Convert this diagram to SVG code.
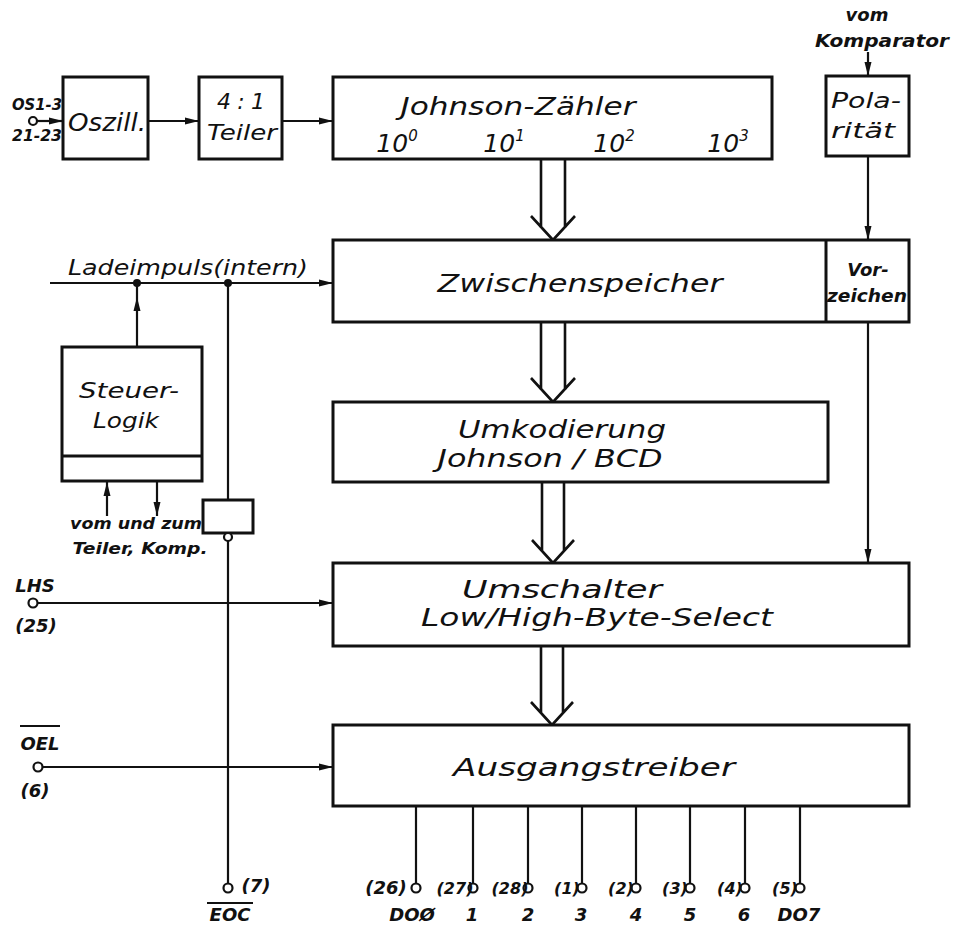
<svg xmlns="http://www.w3.org/2000/svg" width="962" height="928" viewBox="0 0 962 928">
<defs>
<marker id="arr" viewBox="0 0 14 8" refX="14" refY="4" markerWidth="14" markerHeight="8" markerUnits="userSpaceOnUse" orient="auto"><path d="M0,0.5 L14,4 L0,7.5 z" fill="#111"/></marker>
</defs>
<style>
.box{fill:#fff;stroke:#111;stroke-width:3}
.ln{fill:none;stroke:#111;stroke-width:2.2}
.dbl{fill:none;stroke:#111;stroke-width:2.6;stroke-linejoin:miter}
.pin{fill:#fff;stroke:#111;stroke-width:2.2}
.t{font-family:"DejaVu Sans","Liberation Sans",sans-serif;font-style:italic;fill:#111;text-anchor:middle}
.big{font-size:25px}
.mid{font-size:22px}
.sm{font-size:18px;font-weight:bold}
.pl{font-size:16px;font-weight:bold}
</style>
<rect x="0" y="0" width="962" height="928" fill="#fff"/>

<g id="connectors">
  <line class="ln" x1="37" y1="121" x2="63" y2="121" marker-end="url(#arr)"/>
  <line class="ln" x1="148" y1="121" x2="199" y2="121" marker-end="url(#arr)"/>
  <line class="ln" x1="282" y1="121" x2="333" y2="121" marker-end="url(#arr)"/>
  <line class="ln" x1="868" y1="52" x2="868" y2="76" marker-end="url(#arr)"/>
  <line class="ln" x1="868" y1="156" x2="868" y2="240" marker-end="url(#arr)"/>
  <line class="ln" x1="868" y1="322" x2="868" y2="563" marker-end="url(#arr)"/>
  <line class="ln" x1="50" y1="283" x2="333" y2="283" marker-end="url(#arr)"/>
  <circle cx="137" cy="283" r="4" fill="#111"/>
  <circle cx="228" cy="283" r="4" fill="#111"/>
  <line class="ln" x1="137" y1="347" x2="137" y2="283"/>
  <path d="M137,297 L133.5,311 L140.5,311 z" fill="#111"/>
  <line class="ln" x1="228" y1="283" x2="228" y2="500"/>
  <rect class="box" x="203" y="500" width="50" height="33"/>
  <circle class="pin" cx="228" cy="537" r="4"/>
  <line class="ln" x1="228" y1="541" x2="228" y2="883"/>
  <circle class="pin" cx="228" cy="888" r="4.5"/>
  <line class="ln" x1="107" y1="516" x2="107" y2="482" marker-end="url(#arr)"/>
  <line class="ln" x1="157" y1="482" x2="157" y2="516" marker-end="url(#arr)"/>
  <circle class="pin" cx="33" cy="603" r="4.5"/>
  <line class="ln" x1="37.5" y1="603" x2="333" y2="603" marker-end="url(#arr)"/>
  <circle class="pin" cx="38" cy="767" r="4.5"/>
  <line class="ln" x1="42.5" y1="767" x2="333" y2="767" marker-end="url(#arr)"/>
  <circle class="pin" cx="33" cy="121" r="4"/>
  <path class="dbl" d="M541,159 V228 M565,159 V228 M531,216 L553,240 L575,216"/>
  <path class="dbl" d="M541,322 V390 M565,322 V390 M531,378 L553,402 L575,378"/>
  <path class="dbl" d="M542,482 V551 M564,482 V551 M532,540 L553,563 L574,540"/>
  <path class="dbl" d="M541,646 V713 M563,646 V713 M531,702 L552,725 L573,702"/>
  <g>
    <line class="ln" x1="416" y1="806" x2="416" y2="883"/><circle class="pin" cx="416" cy="888" r="4.5"/>
    <line class="ln" x1="473" y1="806" x2="473" y2="883"/><circle class="pin" cx="473" cy="888" r="4.5"/>
    <line class="ln" x1="528" y1="806" x2="528" y2="883"/><circle class="pin" cx="528" cy="888" r="4.5"/>
    <line class="ln" x1="582" y1="806" x2="582" y2="883"/><circle class="pin" cx="582" cy="888" r="4.5"/>
    <line class="ln" x1="636" y1="806" x2="636" y2="883"/><circle class="pin" cx="636" cy="888" r="4.5"/>
    <line class="ln" x1="690" y1="806" x2="690" y2="883"/><circle class="pin" cx="690" cy="888" r="4.5"/>
    <line class="ln" x1="745" y1="806" x2="745" y2="883"/><circle class="pin" cx="745" cy="888" r="4.5"/>
    <line class="ln" x1="800" y1="806" x2="800" y2="883"/><circle class="pin" cx="800" cy="888" r="4.5"/>
  </g>
</g>

<g id="oszill">
  <rect class="box" x="63" y="77" width="85" height="82"/>
  <text class="t big" x="107" y="131" textLength="78" lengthAdjust="spacingAndGlyphs">Oszill.</text>
</g>
<g id="teiler">
  <rect class="box" x="199" y="77" width="83" height="82"/>
  <text class="t mid" x="241" y="109" textLength="48" lengthAdjust="spacing">4:1</text>
  <text class="t mid" x="242" y="140" textLength="70" lengthAdjust="spacingAndGlyphs">Teiler</text>
</g>
<g id="johnson">
  <rect class="box" x="333" y="77" width="439" height="82"/>
  <text class="t big" x="518" y="115" textLength="235" lengthAdjust="spacingAndGlyphs">Johnson-Zähler</text>
  <text class="t big" x="397" y="152">10<tspan font-size="15" dy="-11">0</tspan></text>
  <text class="t big" x="504" y="152">10<tspan font-size="15" dy="-11">1</tspan></text>
  <text class="t big" x="614" y="152">10<tspan font-size="15" dy="-11">2</tspan></text>
  <text class="t big" x="728" y="152">10<tspan font-size="15" dy="-11">3</tspan></text>
</g>
<g id="polaritaet">
  <text class="t sm" x="867" y="21">vom</text>
  <text class="t sm" x="882" y="47" textLength="134" lengthAdjust="spacingAndGlyphs">Komparator</text>
  <rect class="box" x="826" y="76" width="83" height="80"/>
  <text class="t mid" x="866" y="108" textLength="70" lengthAdjust="spacingAndGlyphs">Pola-</text>
  <text class="t mid" x="863" y="138" textLength="64" lengthAdjust="spacingAndGlyphs">rität</text>
</g>
<g id="zwischenspeicher">
  <rect class="box" x="333" y="240" width="576" height="82"/>
  <line x1="826" y1="240" x2="826" y2="322" stroke="#111" stroke-width="3"/>
  <text class="t big" x="580" y="292" textLength="285" lengthAdjust="spacingAndGlyphs">Zwischenspeicher</text>
  <text class="t sm" x="868" y="276" font-size="20">Vor-</text>
  <text class="t sm" x="867" y="302" textLength="80" lengthAdjust="spacingAndGlyphs">zeichen</text>
</g>
<g id="ladeimpuls">
  <text class="t mid" x="188" y="275" textLength="240" lengthAdjust="spacingAndGlyphs">Ladeimpuls(intern)</text>
</g>
<g id="steuerlogik">
  <rect class="box" x="62" y="347" width="140" height="134"/>
  <line x1="62" y1="456" x2="202" y2="456" stroke="#111" stroke-width="3"/>
  <text class="t mid" x="129" y="398" textLength="100" lengthAdjust="spacingAndGlyphs">Steuer-</text>
  <text class="t mid" x="126" y="428" textLength="66" lengthAdjust="spacingAndGlyphs">Logik</text>
  <text class="t pl" x="136" y="529" textLength="132" lengthAdjust="spacingAndGlyphs">vom und zum</text>
  <text class="t pl" x="140" y="554" textLength="135" lengthAdjust="spacingAndGlyphs">Teiler, Komp.</text>
</g>
<g id="umkodierung">
  <rect class="box" x="333" y="402" width="495" height="80"/>
  <text class="t big" x="562" y="438" textLength="208" lengthAdjust="spacingAndGlyphs">Umkodierung</text>
  <text class="t big" x="550" y="467" textLength="225" lengthAdjust="spacingAndGlyphs">Johnson / BCD</text>
</g>
<g id="umschalter">
  <rect class="box" x="333" y="563" width="576" height="83"/>
  <text class="t big" x="562" y="598" textLength="200" lengthAdjust="spacingAndGlyphs">Umschalter</text>
  <text class="t big" x="597" y="626" textLength="352" lengthAdjust="spacingAndGlyphs">Low/High-Byte-Select</text>
</g>
<g id="ausgangstreiber">
  <rect class="box" x="333" y="725" width="576" height="81"/>
  <text class="t big" x="594" y="776" textLength="282" lengthAdjust="spacingAndGlyphs">Ausgangstreiber</text>
</g>
<g id="pins">
  <text class="t pl" x="37" y="110" textLength="50" lengthAdjust="spacingAndGlyphs">OS1-3</text>
  <text class="t pl" x="37" y="141" textLength="50" lengthAdjust="spacingAndGlyphs">21-23</text>
  <text class="t sm" x="35" y="592">LHS</text>
  <text class="t sm" x="36" y="632">(25)</text>
  <text class="t sm" x="40" y="750">OEL</text>
  <line x1="20" y1="726" x2="60" y2="726" stroke="#111" stroke-width="2"/>
  <text class="t sm" x="35" y="797">(6)</text>
  <text class="t sm" x="256" y="892">(7)</text>
  <text class="t sm" x="230" y="921">EOC</text>
  <line x1="207" y1="903" x2="253" y2="903" stroke="#111" stroke-width="2"/>
  <text class="t sm" x="386" y="894">(26)</text>
  <text class="t pl" x="455" y="894">(27)</text>
  <text class="t pl" x="510" y="894">(28)</text>
  <text class="t pl" x="567" y="894">(1)</text>
  <text class="t pl" x="621" y="894">(2)</text>
  <text class="t pl" x="675" y="894">(3)</text>
  <text class="t pl" x="730" y="894">(4)</text>
  <text class="t pl" x="785" y="894">(5)</text>
  <text class="t sm" x="412" y="921">DOØ</text>
  <text class="t sm" x="472" y="921">1</text>
  <text class="t sm" x="528" y="921">2</text>
  <text class="t sm" x="581" y="921">3</text>
  <text class="t sm" x="636" y="921">4</text>
  <text class="t sm" x="690" y="921">5</text>
  <text class="t sm" x="744" y="921">6</text>
  <text class="t sm" x="799" y="921">DO7</text>
</g>
</svg>
